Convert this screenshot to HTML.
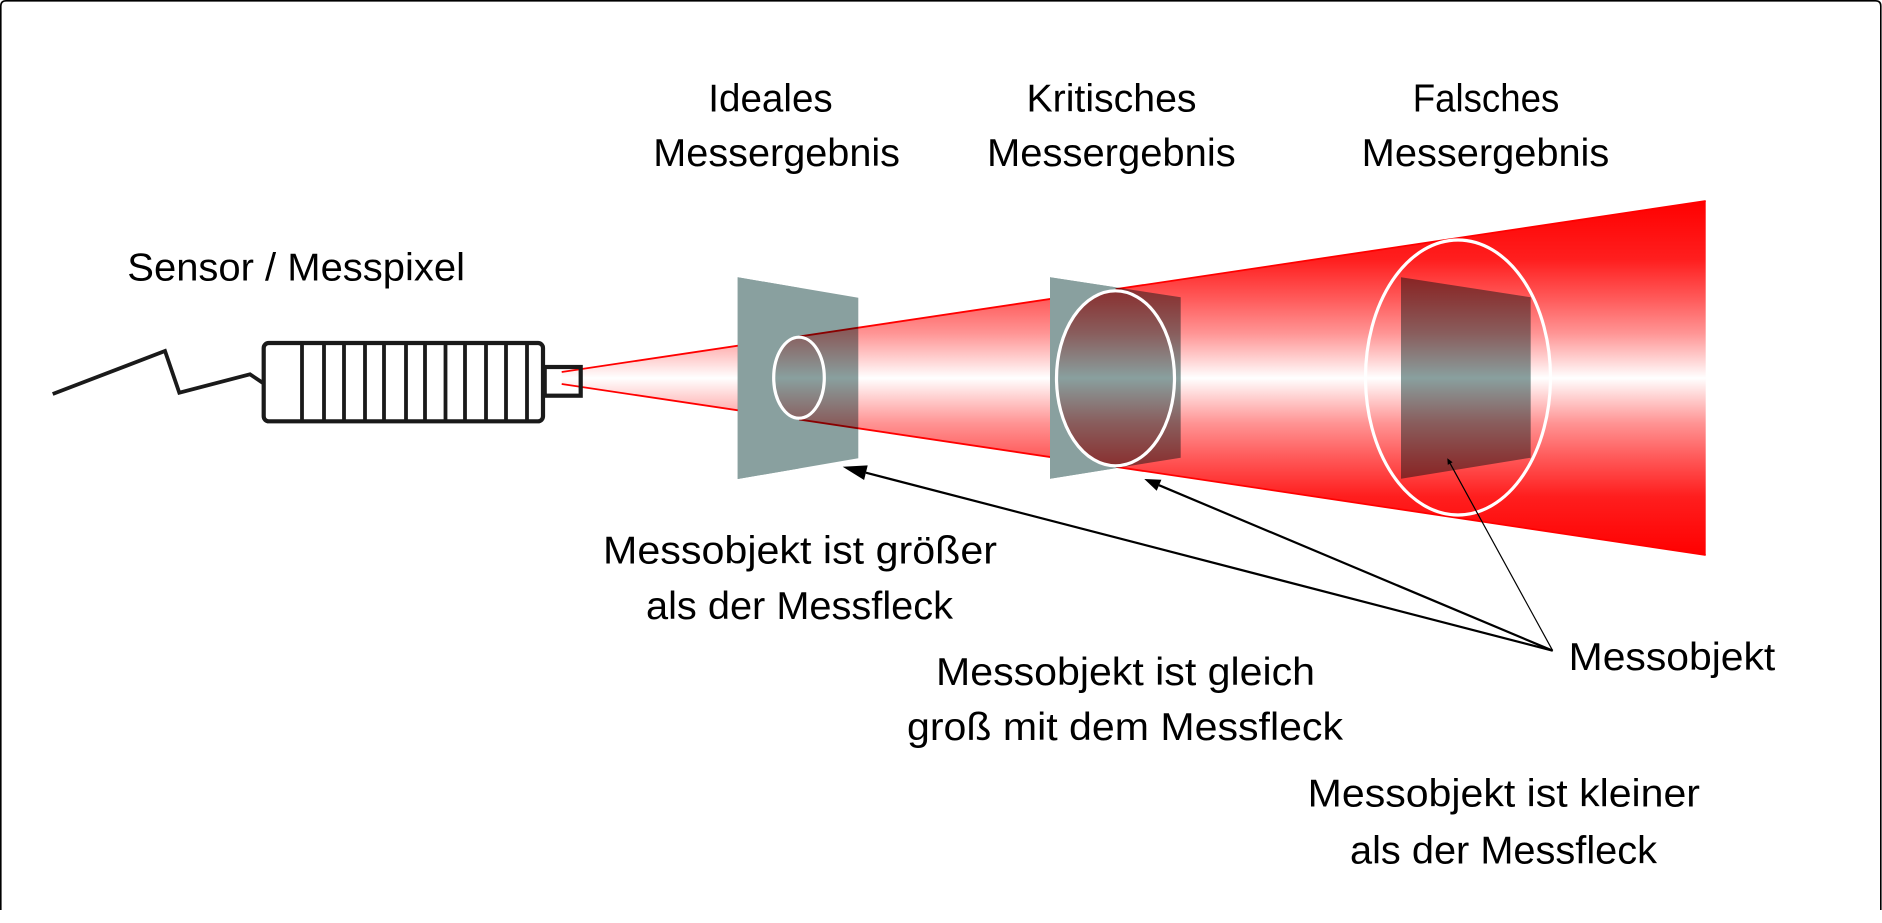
<!DOCTYPE html>
<html>
<head>
<meta charset="utf-8">
<style>
html,body{margin:0;padding:0;background:#fff;}
svg{display:block;}
text{font-family:"Liberation Sans",Arial,sans-serif;font-size:39px;fill:#000;}
</style>
</head>
<body>
<svg width="1882" height="923" viewBox="0 0 1882 923" xmlns="http://www.w3.org/2000/svg">
<defs>
<linearGradient id="beam" gradientUnits="userSpaceOnUse" x1="0" y1="201" x2="0" y2="555">
<stop offset="0" stop-color="#ff0000"/>
<stop offset="0.165" stop-color="#ff1e1e"/>
<stop offset="0.28" stop-color="#ff5c5c"/>
<stop offset="0.373" stop-color="#ff9494"/>
<stop offset="0.45" stop-color="#ffd4d4"/>
<stop offset="0.5" stop-color="#ffffff"/>
<stop offset="0.55" stop-color="#ffd4d4"/>
<stop offset="0.627" stop-color="#ff9494"/>
<stop offset="0.72" stop-color="#ff5c5c"/>
<stop offset="0.835" stop-color="#ff1e1e"/>
<stop offset="1" stop-color="#ff0000"/>
</linearGradient>
</defs>
<rect x="0" y="0" width="1882" height="923" fill="#fff"/>

<!-- frame -->
<path d="M0.8 910 V6 Q0.8 0.8 6 0.8 H1875.5 Q1880.8 0.8 1880.8 6 V910" fill="none" stroke="#000" stroke-width="1.6"/>

<!-- texts -->
<text x="127.3" y="280.7" textLength="337.7" lengthAdjust="spacingAndGlyphs">Sensor / Messpixel</text>
<text x="708.3" y="111.7" textLength="124.4" lengthAdjust="spacingAndGlyphs">Ideales</text>
<text x="653.3" y="166" textLength="246.7" lengthAdjust="spacingAndGlyphs">Messergebnis</text>
<text x="1026.5" y="111.7" textLength="170" lengthAdjust="spacingAndGlyphs">Kritisches</text>
<text x="987" y="166" textLength="248.7" lengthAdjust="spacingAndGlyphs">Messergebnis</text>
<text x="1412.7" y="111.7" textLength="146.6" lengthAdjust="spacingAndGlyphs">Falsches</text>
<text x="1361.7" y="166" textLength="247.6" lengthAdjust="spacingAndGlyphs">Messergebnis</text>
<text x="603" y="563.3" textLength="394" lengthAdjust="spacingAndGlyphs">Messobjekt ist größer</text>
<text x="646" y="619" textLength="307" lengthAdjust="spacingAndGlyphs">als der Messfleck</text>
<text x="936" y="685" textLength="379" lengthAdjust="spacingAndGlyphs">Messobjekt ist gleich</text>
<text x="907" y="740" textLength="436" lengthAdjust="spacingAndGlyphs">groß mit dem Messfleck</text>
<text x="1307.7" y="806.7" textLength="392.3" lengthAdjust="spacingAndGlyphs">Messobjekt ist kleiner</text>
<text x="1350" y="863.3" textLength="307" lengthAdjust="spacingAndGlyphs">als der Messfleck</text>
<text x="1568.7" y="670" textLength="206.6" lengthAdjust="spacingAndGlyphs">Messobjekt</text>

<!-- sensor -->
<polyline points="52.7,394 165,351 179.3,392.7 250,374.3 263,383" fill="none" stroke="#1a1a1a" stroke-width="3.8" stroke-linejoin="miter"/>
<rect x="263.7" y="343" width="279.3" height="78.3" rx="5" ry="5" fill="#fff" stroke="#1a1a1a" stroke-width="4.2"/>
<g stroke="#1a1a1a" stroke-width="3.8">
<line x1="302" y1="343" x2="302" y2="421.3"/>
<line x1="324" y1="343" x2="324" y2="421.3"/>
<line x1="344" y1="343" x2="344" y2="421.3"/>
<line x1="365" y1="343" x2="365" y2="421.3"/>
<line x1="384" y1="343" x2="384" y2="421.3"/>
<line x1="406" y1="343" x2="406" y2="421.3"/>
<line x1="425" y1="343" x2="425" y2="421.3"/>
<line x1="445.5" y1="343" x2="445.5" y2="421.3"/>
<line x1="465" y1="343" x2="465" y2="421.3"/>
<line x1="486" y1="343" x2="486" y2="421.3"/>
<line x1="506" y1="343" x2="506" y2="421.3"/>
<line x1="527" y1="343" x2="527" y2="421.3"/>
</g>
<rect x="544.7" y="367" width="36" height="28.7" fill="#fff"/>

<!-- beam -->
<polygon points="561.7,372 1705.7,201 1705.7,555 561.7,384" fill="url(#beam)"/>
<line x1="561.7" y1="372" x2="1705.7" y2="201" stroke="#ff0000" stroke-width="1.8"/>
<line x1="561.7" y1="384" x2="1705.7" y2="555" stroke="#ff0000" stroke-width="1.8"/>

<!-- nozzle stroke -->
<rect x="544.7" y="367" width="36" height="28.7" fill="none" stroke="#1a1a1a" stroke-width="4.2"/>

<!-- ideal plate -->
<polygon points="737.7,277.3 858.3,297.7 858.3,458.3 737.7,479" fill="#89a09f" style="mix-blend-mode:multiply"/>
<path d="M737.7 277.3 L799 287.7 L799 468.5 L737.7 479 Z M799 337.2 A25.3 40.5 0 0 0 799 418.2 Z" fill="#89a09f" fill-rule="evenodd"/>
<ellipse cx="799" cy="377.7" rx="25.3" ry="40.5" fill="none" stroke="#fff" stroke-width="3.2"/>

<!-- critical plate -->
<polygon points="1050,277.3 1180.7,297.3 1180.7,457.7 1050,478.7" fill="#89a09f" style="mix-blend-mode:multiply"/>
<path d="M1050 277.3 L1115.5 287.3 L1115.5 468.2 L1050 478.7 Z M1115.5 290.8 A59 87.5 0 0 0 1115.5 465.8 Z" fill="#89a09f" fill-rule="evenodd"/>
<ellipse cx="1115.5" cy="378.3" rx="59" ry="87.5" fill="none" stroke="#fff" stroke-width="3.2"/>

<!-- false plate -->
<polygon points="1401,277.3 1530.7,297.3 1530.7,457.7 1401,478.7" fill="#89a09f" style="mix-blend-mode:multiply"/>
<ellipse cx="1458" cy="377.5" rx="92.5" ry="137.5" fill="none" stroke="#fff" stroke-width="3.2"/>

<!-- arrows -->
<line x1="1552.7" y1="650.7" x2="865.9" y2="472.7" stroke="#000" stroke-width="2.2"/>
<polygon points="842.7,466.7 867.7,465.4 864.1,480" fill="#000"/>
<line x1="1552.7" y1="650.7" x2="1159" y2="485.2" stroke="#000" stroke-width="2.2"/>
<polygon points="1144.3,479 1161.4,479.7 1156.7,490.7" fill="#000"/>
<line x1="1552.7" y1="650.7" x2="1450.2" y2="463.6" stroke="#000" stroke-width="1.2"/>
<polygon points="1447.3,458.3 1452.6,462.3 1447.8,464.9" fill="#000"/>
</svg>
</body>
</html>
